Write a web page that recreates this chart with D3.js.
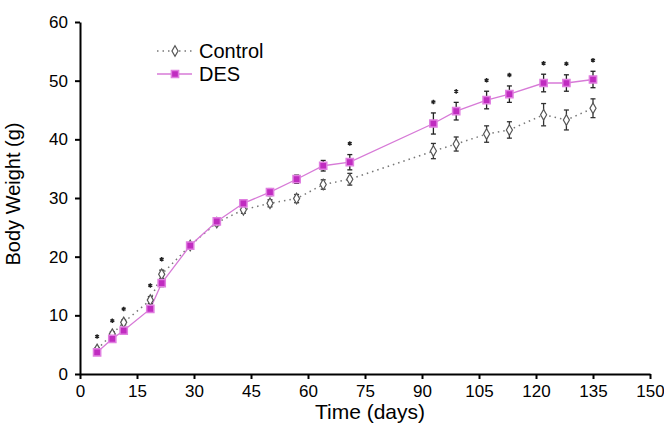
<!DOCTYPE html>
<html>
<head>
<meta charset="utf-8">
<script src="https://cdn.jsdelivr.net/npm/d3@7"></script>
<style>
  body { margin: 0; background: #fff; }
  svg { font-family: "Liberation Sans", Arial, sans-serif; }
  .axis path, .axis line { stroke: #000; stroke-width: 2px; }
  .axis text { font-size: 17px; fill: #000; }
</style>
</head>
<body>
<div id="chart"></div>
<script>
// time points (days)
var days = [4.5, 8.5, 11.5, 18.5, 21.5, 29, 36, 43, 50, 57, 64, 71, 93, 99, 107, 113, 122, 128, 135];
// mean body weight (g)
var controlValues = [4.2, 6.8, 8.8, 12.6, 17.0, 21.9, 25.8, 28.0, 29.1, 29.9, 32.3, 33.2, 38.0, 39.2, 40.9, 41.6, 44.2, 43.3, 45.3];
var desValues = [3.7, 6.0, 7.4, 11.1, 15.5, 21.9, 26.0, 29.1, 31.0, 33.2, 35.5, 36.1, 42.7, 44.8, 46.7, 47.7, 49.6, 49.6, 50.2];
// standard errors
var controlErr = [0.3, 0.4, 0.4, 0.6, 0.7, 0.4, 0.5, 0.6, 0.6, 0.7, 0.8, 1.0, 1.3, 1.2, 1.4, 1.4, 1.9, 1.7, 1.6];
var desErr = [0.3, 0.4, 0.4, 0.5, 0.6, 0.4, 0.5, 0.6, 0.6, 0.7, 0.9, 1.3, 1.8, 1.5, 1.5, 1.4, 1.5, 1.4, 1.4];
// days marked as significant (*)
var significantDays = [4.5, 8.5, 11.5, 18.5, 21.5, 71, 93, 99, 107, 113, 122, 128, 135];
var xTicks = [0, 15, 30, 45, 60, 75, 90, 105, 120, 135, 150];
var yTicks = [0, 10, 20, 30, 40, 50, 60];

var totalWidth = 664, totalHeight = 427;
var margin = {top: 22, right: 14, bottom: 53, left: 80};
var width = totalWidth - margin.left - margin.right;
var height = totalHeight - margin.top - margin.bottom;

var desColor = "#c02cc0";
var desLine = "#d77ad7";
var controlColor = "#555";

var svg = d3.select("#chart").append("svg")
  .attr("width", totalWidth)
  .attr("height", totalHeight);

var g = svg.append("g")
  .attr("transform", "translate(" + margin.left + "," + margin.top + ")");

var x = d3.scaleLinear().domain([0, 150]).range([0, width]);
var y = d3.scaleLinear().domain([0, 60]).range([height, 0]);

/** build point records */
var control = days.map(function(d, i) { return {day: d, value: controlValues[i], err: controlErr[i]}; });
var des = days.map(function(d, i) { return {day: d, value: desValues[i], err: desErr[i]}; });

/** axes */
g.append("g")
  .attr("class", "axis")
  .attr("transform", "translate(0," + height + ")")
  .call(d3.axisBottom(x).tickValues(xTicks).tickSize(5).tickPadding(6).tickSizeOuter(0));

g.append("g")
  .attr("class", "axis")
  .call(d3.axisLeft(y).tickValues(yTicks).tickSize(5).tickPadding(7).tickSizeOuter(0));

/** axis titles */
svg.append("text")
  .attr("x", 370)
  .attr("y", 419)
  .attr("text-anchor", "middle")
  .style("font-size", "21px")
  .text("Time (days)");

svg.append("text")
  .attr("transform", "translate(20,194) rotate(-90)")
  .attr("text-anchor", "middle")
  .style("font-size", "20px")
  .text("Body Weight (g)");

var line = d3.line()
  .x(function(d) { return x(d.day); })
  .y(function(d) { return y(d.value); });

/** control line (dotted) */
g.append("path")
  .datum(control)
  .attr("fill", "none")
  .attr("stroke", "#777")
  .attr("stroke-width", 1.5)
  .attr("stroke-dasharray", "1.5,4")
  .attr("d", line);

/** DES line */
g.append("path")
  .datum(des)
  .attr("fill", "none")
  .attr("stroke", desLine)
  .attr("stroke-width", 1.3)
  .attr("d", line);

/** error bars */
function drawErrors(data, color, cls)
{
  var eb = g.selectAll("." + cls)
    .data(data)
    .enter().append("g")
      .attr("class", cls)
      .attr("stroke", color)
      .attr("stroke-width", 1.3);
  eb.append("line")
    .attr("x1", function(d) { return x(d.day); })
    .attr("x2", function(d) { return x(d.day); })
    .attr("y1", function(d) { return y(d.value - d.err); })
    .attr("y2", function(d) { return y(d.value + d.err); });
  [-1, 1].forEach(function(s) {
    eb.append("line")
      .attr("x1", function(d) { return x(d.day) - 2.5; })
      .attr("x2", function(d) { return x(d.day) + 2.5; })
      .attr("y1", function(d) { return y(d.value + s * d.err); })
      .attr("y2", function(d) { return y(d.value + s * d.err); });
  });
}
drawErrors(control, "#333", "errC");
drawErrors(des, "#222", "errD");

/** markers */
var diamond = d3.symbol().type(d3.symbolDiamond).size(32);
var square = d3.symbol().type(d3.symbolSquare).size(52);

g.selectAll(".ptC")
  .data(control)
  .enter().append("path")
    .attr("class", "ptC")
    .attr("d", diamond)
    .attr("transform", function(d) { return "translate(" + x(d.day) + "," + y(d.value) + ")"; })
    .attr("fill", "#fff")
    .attr("stroke", controlColor)
    .attr("stroke-width", 1.2);

g.selectAll(".ptD")
  .data(des)
  .enter().append("path")
    .attr("class", "ptD")
    .attr("d", square)
    .attr("transform", function(d) { return "translate(" + x(d.day) + "," + y(d.value) + ")"; })
    .attr("fill", desColor)
    .attr("stroke", "#e07ee0")
    .attr("stroke-width", 1.5);

/** significance asterisks */
var star = d3.symbol().type(d3.symbolAsterisk).size(14);
g.selectAll(".sig")
  .data(significantDays)
  .enter().append("path")
    .attr("class", "sig")
    .attr("d", star)
    .attr("stroke", "#222")
    .attr("stroke-width", 1.4)
    .attr("transform", function(d) {
      var i = days.indexOf(d);
      var top = Math.max(controlValues[i] + controlErr[i], desValues[i] + desErr[i]);
      return "translate(" + x(d) + "," + (y(top) - 11) + ")";
    });

/** legend */
var legend = svg.append("g");
var legendItems = [
  {name: "Control", y: 51},
  {name: "DES", y: 74}
];
legendItems.forEach(function(item) {
  var isDes = item.name == "DES";
  legend.append("line")
    .attr("x1", 157).attr("x2", 192)
    .attr("y1", item.y).attr("y2", item.y)
    .attr("stroke", isDes ? desLine : "#777")
    .attr("stroke-width", 1.5)
    .attr("stroke-dasharray", isDes ? null : "1.5,4");
  legend.append("path")
    .attr("d", isDes ? square : diamond)
    .attr("transform", "translate(175," + item.y + ")")
    .attr("fill", isDes ? desColor : "#fff")
    .attr("stroke", isDes ? "#e07ee0" : controlColor)
    .attr("stroke-width", isDes ? 1.5 : 1.2);
  legend.append("text")
    .attr("x", 199)
    .attr("y", item.y + 7)
    .style("font-size", "20px")
    .text(item.name);
});
</script>
</body>
</html>
